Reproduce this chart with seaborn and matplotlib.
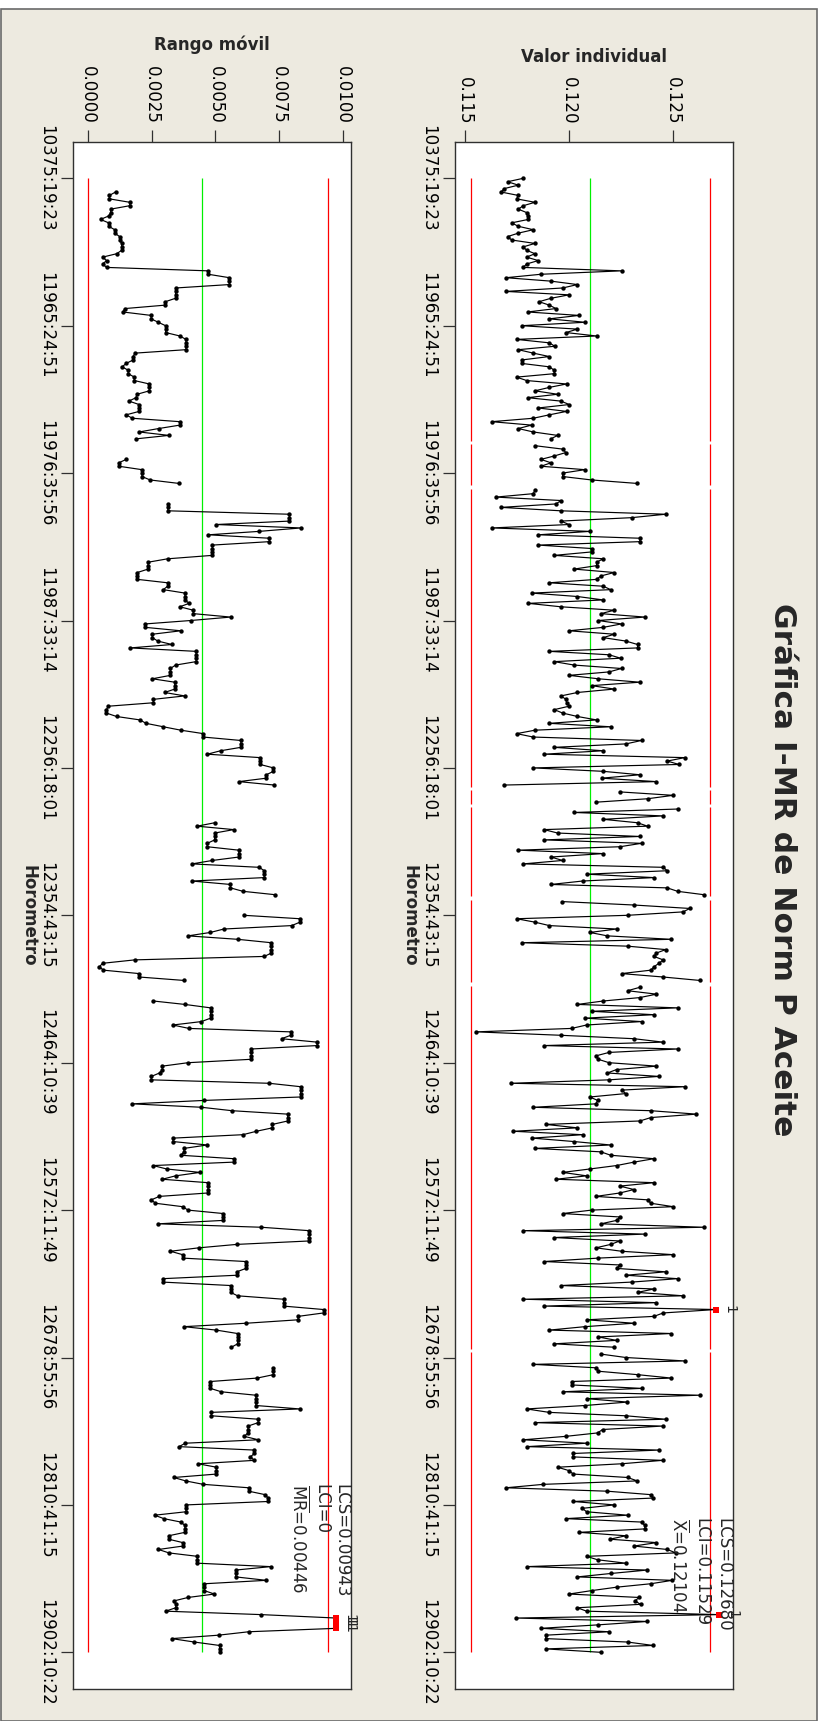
import numpy as np
import pandas as pd
import matplotlib
matplotlib.use("Agg")
import matplotlib.pyplot as plt
from matplotlib.patches import Rectangle
import seaborn as sns

# ---------------- data ----------------
title = "Gráfica I-MR de Norm P Aceite"
horometro_labels = ["10375:19:23", "11965:24:51", "11976:35:56", "11987:33:14",
                    "12256:18:01", "12354:43:15", "12464:10:39", "12572:11:49",
                    "12678:55:56", "12810:41:15", "12902:10:22"]
nan = np.nan
norm_p_aceite = [
    0.11782, 0.11707, 0.11758, 0.11691, 0.11675, 0.11758, 0.11750, 0.11838, 0.11782, 0.11758,
    0.11798, 0.11803, 0.11806, 0.11726, 0.11758, 0.11830, 0.11758, 0.11707, 0.11726, 0.11838,
    0.11782, 0.11798, 0.11838, 0.11798, 0.11854, 0.11798, 0.11782, 0.12254, 0.11866, 0.11699,
    0.11915, 0.12042, 0.11971, 0.11699, 0.12002, 0.11915, 0.11858, 0.11907, 0.11939, 0.11803,
    0.12050, 0.11907, 0.12078, 0.11774, 0.12042, 0.11987, 0.12134, 0.11750, 0.11907, 0.11934,
    0.11758, 0.11830, 0.11907, 0.11774, 0.11774, 0.11907, 0.11931, 0.11931, 0.11750, 0.11798,
    0.11990, 0.11907, 0.11838, 0.11947, 0.11803, 0.11963, 0.12003, 0.11854, 0.11990, 0.11907,
    0.11830, 0.11630, 0.11822, 0.11758, 0.11830, 0.11947, 0.11915, nan, 0.11838, 0.11971,
    0.11987, 0.11931, 0.11867, 0.11915, 0.11867, 0.12078, 0.11971, 0.11971, 0.12110, 0.12326,
    nan, 0.11838, 0.11830, 0.11650, 0.11963, 0.11939, 0.11675, 0.11963, 0.12466, 0.12302,
    0.11963, 0.12002, 0.11630, 0.12102, 0.11854, 0.12342, 0.12342, 0.11854, 0.12110, 0.12110,
    0.11931, 0.12166, 0.12134, 0.12134, 0.12026, 0.12219, 0.12155, 0.12134, 0.11907, 0.12166,
    0.12202, 0.11822, 0.12042, 0.12166, 0.11806, 0.11963, 0.12219, 0.12155, 0.12366, 0.12142,
    0.12254, 0.12166, 0.12002, 0.12219, 0.12166, 0.12275, 0.12331, 0.12331, 0.11907, 0.12194,
    0.12250, 0.11931, 0.12026, 0.12254, 0.12194, 0.12002, 0.12142, 0.12342, 0.12110, 0.12219,
    0.12042, 0.11963, 0.11987, 0.11990, 0.12002, 0.11931, 0.11971, 0.12042, 0.12134, 0.11907,
    0.12202, 0.11838, 0.11750, 0.11830, 0.12350, 0.12275, 0.11931, 0.12166, 0.11882, 0.12558,
    0.12474, 0.12530, 0.11830, 0.12166, 0.12342, 0.12158, 0.12422, 0.11691, nan, 0.12246,
    0.12502, 0.12379, 0.12131, nan, 0.12523, 0.12026, 0.12454, 0.12166, 0.12331, 0.12379,
    0.11882, 0.11947, 0.12342, 0.11882, 0.12350, 0.12246, 0.11758, 0.12166, 0.11915, 0.11971,
    0.11782, 0.12454, 0.12474, 0.12086, 0.12410, 0.12067, 0.11915, 0.12474, 0.12523, 0.12651,
    nan, 0.11970, 0.12314, 0.12582, 0.12550, 0.12283, 0.11750, 0.11838, 0.11907, 0.12230,
    0.12102, 0.12186, 0.12494, 0.11774, 0.12283, 0.12466, 0.12422, 0.12410, 0.12454, 0.12434,
    0.12410, 0.12395, 0.12254, 0.12454, 0.12630, nan, 0.12342, 0.12283, 0.12422, 0.12342,
    0.12166, 0.12042, 0.12523, 0.12110, 0.12410, 0.12078, 0.12350, 0.12086, 0.12014, 0.11554,
    0.11963, 0.12314, 0.12454, 0.11882, 0.12523, 0.12194, 0.12131, 0.12142, 0.12194, 0.12422,
    0.12230, 0.12186, 0.12434, 0.12194, 0.11723, 0.12558, 0.12254, 0.12275, 0.12102, 0.12139,
    0.12131, 0.11830, 0.12395, 0.12614, 0.12395, 0.12342, 0.11890, 0.12042, 0.11734, 0.12067,
    0.11826, 0.12026, 0.12202, 0.11838, 0.12155, 0.12202, 0.12410, 0.12314, 0.12230, 0.12102,
    0.11971, 0.12086, 0.11939, 0.12410, 0.12246, 0.12314, 0.12246, 0.12131, 0.12379, 0.12395,
    0.12502, 0.12110, 0.11971, 0.12246, 0.12230, 0.12155, 0.12651, 0.11782, 0.12366, 0.11931,
    0.12246, 0.12202, 0.12131, 0.12254, 0.12502, 0.12142, 0.11882, 0.12246, 0.12230, 0.12466,
    0.12275, 0.12523, 0.12302, 0.11963, 0.12410, 0.12331, 0.12550, 0.11782, 0.12422, 0.11882,
    0.12707, 0.12454, 0.12410, 0.12086, 0.12314, 0.12078, 0.11907, 0.12494, 0.12142, 0.12230,
    0.11931, 0.12219, nan, 0.12155, 0.12275, 0.12558, 0.11830, 0.12131, 0.12142, 0.12331,
    0.12494, 0.12014, 0.12014, 0.12350, 0.11971, 0.12630, 0.12086, 0.12282, 0.12078, 0.11798,
    0.11906, 0.12275, 0.12466, 0.11838, 0.12451, 0.12163, 0.12139, 0.11986, 0.11782, 0.12086,
    0.11798, 0.12435, 0.12019, 0.12022, 0.12451, 0.12254, 0.11947, 0.12002, 0.12022, 0.12283,
    0.12330, 0.11878, 0.11699, 0.12186, 0.12394, 0.12406, 0.12022, 0.12219, 0.12066, 0.12086,
    0.12283, 0.11986, 0.12350, 0.12366, 0.12366, 0.12050, 0.12275, 0.12198, 0.12422, 0.12314,
    0.12474, 0.12515, 0.12086, 0.12139, 0.12275, 0.11798, 0.12378, 0.12203, 0.12042, 0.12498,
    0.12394, 0.12230, 0.12110, 0.12002, 0.12339, 0.12318, 0.12346, 0.12042, 0.12086, 0.12722,
    0.11747, 0.12378, 0.12139, 0.11866, 0.12194, 0.11890, 0.11890, 0.12283, 0.12406, 0.11890,
    0.12155,
]
i_lcs, i_lci, i_center = 0.12680, 0.11529, 0.12104
mr_lcs, mr_lci, mr_center = 0.00943, 0.0, 0.00446
mr_span = 5
i_ticks = [0.115, 0.120, 0.125]
mr_ticks = [0.0, 0.0025, 0.0050, 0.0075, 0.0100]
label_step = 43

# ---------------- derived ----------------
values = pd.Series(norm_p_aceite, dtype=float)
n = len(values)
moving_range = values.rolling(mr_span).max() - values.rolling(mr_span).min()


def seg_frame(series):
    s = pd.Series(series, dtype=float).reset_index(drop=True)
    df = pd.DataFrame({"idx": np.arange(len(s)), "val": s, "seg": s.isna().cumsum()})
    return df.dropna()


def valid_runs(series):
    ok = ~pd.Series(series).isna().to_numpy()
    runs, start = [], None
    for k, flag in enumerate(ok):
        if flag and start is None:
            start = k
        elif not flag and start is not None:
            runs.append((start, k - 1))
            start = None
    if start is not None:
        runs.append((start, len(ok) - 1))
    return runs


# ---------------- style ----------------
sns.set_style("ticks")
plt.rcParams["font.family"] = ["DejaVu Sans"]
BEIGE = "#EDEAE0"
DARK = "#303030"
RED = "#FF0000"
GREEN = "#00F000"

W, H = 825, 1721
fig = plt.figure(figsize=(W / 100, H / 100), dpi=100)
fig.patch.set_facecolor("white")
fig.add_artist(Rectangle((0.6 / W, 0.0), 816.5 / W, (H - 9.3) / H,
                         transform=fig.transFigure, facecolor=BEIGE,
                         edgecolor="#6a6a6a", linewidth=1.2, zorder=-10))

ax_top, ax_bot = 142.3, 1689.0
ax_i = fig.add_axes([455 / W, (H - ax_bot) / H, 278.3 / W, (ax_bot - ax_top) / H])
ax_mr = fig.add_axes([73.3 / W, (H - ax_bot) / H, 277.7 / W, (ax_bot - ax_top) / H])

ylim = (440.7, -10.5)


def draw_panel(ax, series, lcs, lci, center, gaps_in_limits, out_mask):
    df = seg_frame(series)
    sns.lineplot(data=df, x="val", y="idx", units="seg", estimator=None, sort=False,
                 orient="y", color="black", linewidth=0.85, ax=ax, zorder=3)
    sns.scatterplot(data=df, x="val", y="idx", color="black", s=10, linewidth=0,
                    ax=ax, zorder=4)
    bad = df[out_mask.reindex(df.index).fillna(False).to_numpy()]
    if len(bad):
        sns.scatterplot(data=bad, x="val", y="idx", color=RED, marker="s", s=13,
                        linewidth=0, ax=ax, zorder=5)
        for _, r in bad.iterrows():
            ax.annotate("1", xy=(r["val"], r["idx"]), xytext=(4.5, 0),
                        textcoords="offset points", rotation=270, ha="left",
                        va="center", fontsize=10, annotation_clip=False)
    if gaps_in_limits:
        for a, b in valid_runs(series):
            y0, y1 = max(a - 0.5, 0), min(b + 0.5, n - 1)
            ax.vlines([lcs, lci], y0, y1, color=RED, linewidth=0.9, zorder=2)
    else:
        ax.vlines([lcs, lci], 0, n - 1, color=RED, linewidth=0.9, zorder=2)
    ax.vlines(center, 0, n - 1, color=GREEN, linewidth=0.9, zorder=2)
    ax.set_ylim(*ylim)
    ticks = np.arange(0, n, label_step)[:len(horometro_labels)]
    ax.set_yticks(ticks)
    ax.set_yticklabels(horometro_labels)
    ax.set_facecolor("white")
    for sp in ax.spines.values():
        sp.set_visible(True)
        sp.set_color(DARK)
        sp.set_linewidth(1.0)
    ax.xaxis.tick_top()
    ax.xaxis.set_label_position("top")
    ax.tick_params(axis="both", length=8.5, width=0.9, color=DARK, labelsize=12,
                   pad=4.5, labelcolor="black")
    ax.tick_params(axis="x", top=True, bottom=False, labeltop=True,
                   labelbottom=False, labelrotation=270)
    for t in ax.get_yticklabels():
        t.set_rotation(270)
        t.set_va("center")
        t.set_ha("right")
    ax.set_ylabel("Horometro", fontsize=12, fontweight="bold", rotation=270,
                  va="center", ha="center")
    ax.yaxis.set_label_coords(-0.162, 0.5)


i_out = (values > i_lcs) | (values < i_lci)
mr_out = moving_range > mr_lcs

draw_panel(ax_i, values, i_lcs, i_lci, i_center, True, i_out)
draw_panel(ax_mr, moving_range, mr_lcs, mr_lci, mr_center, False, mr_out)

ax_i.set_xlim(0.11454, 0.12791)
ax_i.set_xticks(i_ticks)
ax_i.set_xticklabels([f"{v:.3f}" for v in i_ticks])
ax_i.set_xlabel("Valor individual", fontsize=12, fontweight="bold")
ax_i.xaxis.set_label_coords(0.5, 1.0519)

ax_mr.set_xlim(-0.00059, 0.01033)
ax_mr.set_xticks(mr_ticks)
ax_mr.set_xticklabels([f"{v:.4f}" for v in mr_ticks])
ax_mr.set_xlabel("Rango móvil", fontsize=12, fontweight="bold")
ax_mr.xaxis.set_label_coords(0.5, 1.0597)

# limit annotations
for ax, ytop, items in [
    (ax_i, 0.1106, [(0.966, f"LCS={i_lcs:.5f}"), (0.886, f"LCI={i_lci:.5f}"),
                    (0.804, r"$\overline{\mathregular{X}}$" + f"={i_center:.5f}")]),
    (ax_mr, 0.1325, [(0.967, f"LCS={mr_lcs:.5f}"), (0.892, "LCI=0"),
                     (0.812, r"$\overline{\mathregular{MR}}$" + f"={mr_center:.5f}")]),
]:
    for xf, txt in items:
        ax.text(xf, ytop, txt, transform=ax.transAxes, rotation=270, ha="center",
                va="top", fontsize=12, zorder=6)

fig.text(783 / W, 1 - 870 / H, title, rotation=270, ha="center", va="center",
         fontsize=22.5, fontweight="bold")

fig.savefig("out.png", dpi=100, facecolor=fig.get_facecolor())
